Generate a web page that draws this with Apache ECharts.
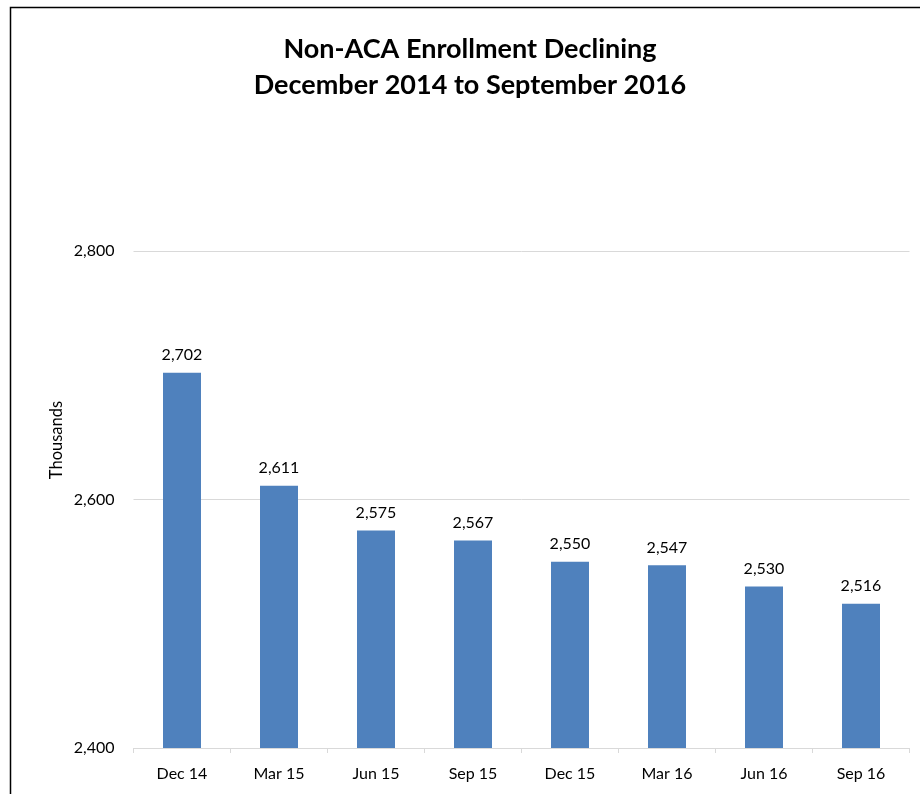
<!DOCTYPE html>
<html>
<head>
<meta charset="utf-8">
<script src="https://cdn.jsdelivr.net/npm/echarts@6/dist/echarts.min.js"></script>
<style>
  html, body { margin: 0; padding: 0; background: #ffffff; }
  #chart { width: 920px; height: 794px; }
</style>
</head>
<body>
<div id="chart"></div>
<script>
// Quarterly non-ACA enrollment, in thousands
const categories = ['Dec 14', 'Mar 15', 'Jun 15', 'Sep 15', 'Dec 15', 'Mar 16', 'Jun 16', 'Sep 16'];
const enrollment = [2702, 2611, 2575, 2567, 2550, 2547, 2530, 2516];
const titleLines = ['Non-ACA Enrollment Declining', 'December 2014 to September 2016'];
const axisName = 'Thousands';

const fontFamily = 'Lato, "Open Sans", "Liberation Sans", sans-serif';
const fmt = v => v.toLocaleString('en-US');

const chart = echarts.init(document.getElementById('chart'), null, { renderer: 'canvas' });

chart.setOption({
  backgroundColor: '#ffffff',
  animation: false,
  textStyle: { fontFamily: fontFamily },
  graphic: [
    {
      // chart frame
      type: 'rect',
      shape: { x: 10.5, y: 7.5, width: 1000, height: 1000 },
      style: { fill: 'none', stroke: '#000000', lineWidth: 1.5 },
      silent: true,
      z: 100
    },
    {
      // value-axis caption
      type: 'text',
      x: 57,
      y: 440,
      rotation: Math.PI / 2,
      style: {
        text: axisName,
        fill: '#000000',
        font: '16.5px ' + fontFamily,
        align: 'center',
        verticalAlign: 'middle'
      },
      silent: true
    }
  ],
  title: {
    text: titleLines.join('\n'),
    left: 465,
    textAlign: 'center',
    top: 26,
    textStyle: {
      fontFamily: fontFamily,
      fontSize: 27,
      fontWeight: 'bold',
      color: '#000000',
      lineHeight: 36
    }
  },
  grid: {
    left: 133.5,
    right: 10.5,
    top: 251,
    bottom: 46,
    containLabel: false
  },
  xAxis: {
    type: 'category',
    data: categories,
    axisLine: { show: true, lineStyle: { color: '#d9d9d9', width: 1 } },
    axisTick: { show: true, alignWithLabel: false, length: 5, lineStyle: { color: '#d9d9d9' } },
    axisLabel: { color: '#000000', fontSize: 16, margin: 18, fontFamily: fontFamily }
  },
  yAxis: {
    type: 'value',
    min: 2400,
    max: 2800,
    interval: 200,
    axisLine: { show: false },
    axisTick: { show: false },
    splitLine: { show: true, lineStyle: { color: '#d9d9d9', width: 1 } },
    axisLabel: {
      color: '#000000',
      fontSize: 16,
      margin: 19,
      fontFamily: fontFamily,
      formatter: v => fmt(v)
    }
  },
  series: [{
    type: 'bar',
    data: enrollment,
    barWidth: 38,
    itemStyle: { color: '#4f81bd' },
    label: {
      show: true,
      position: 'top',
      distance: 10,
      color: '#000000',
      fontSize: 16,
      fontFamily: fontFamily,
      formatter: p => fmt(p.value)
    }
  }]
});
</script>
</body>
</html>
